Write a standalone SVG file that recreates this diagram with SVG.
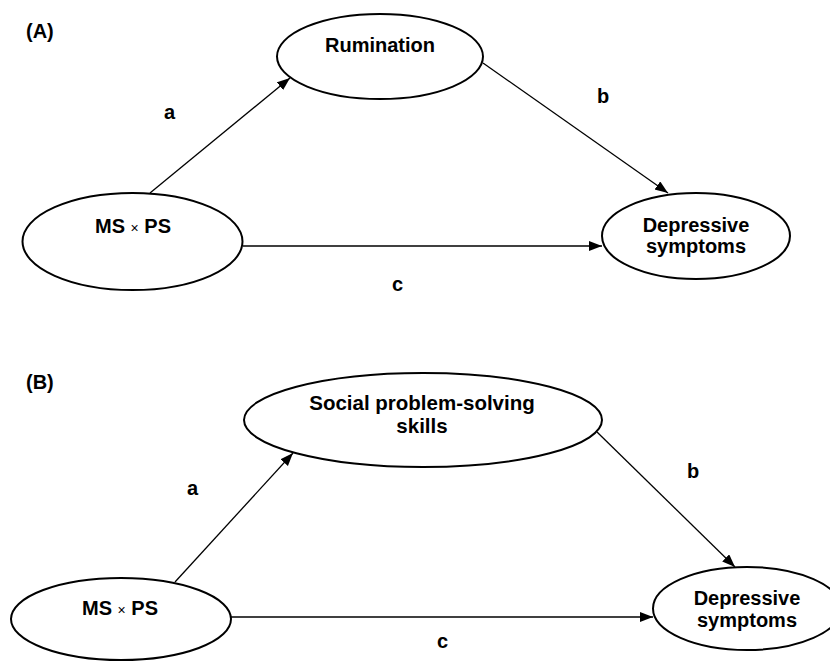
<svg xmlns="http://www.w3.org/2000/svg" width="830" height="662" viewBox="0 0 830 662">
<style>
.n{fill:#fff;stroke:#000;stroke-width:2}
.t{font-family:"Liberation Sans",Arial,sans-serif;font-weight:bold;font-size:20px;fill:#000;text-anchor:middle}
.x{font-family:"Liberation Sans",Arial,sans-serif;font-weight:normal;font-size:14px}
.l{font-family:"Liberation Sans",Arial,sans-serif;font-weight:bold;font-size:20px;fill:#000}
.e{stroke:#000;stroke-width:1.3;fill:none;marker-end:url(#ah)}
</style>
<defs>
<marker id="ah" markerWidth="14" markerHeight="12" refX="13" refY="5" orient="auto" markerUnits="userSpaceOnUse">
<path d="M0,0 L13,5 L0,10 Z" fill="#000"/>
</marker>
</defs>
<rect width="830" height="662" fill="#fff"/>
<text class="l" x="26" y="38">(A)</text>
<text class="l" x="26" y="389">(B)</text>
<g id="connectors">
<line class="e" x1="150" y1="193" x2="290" y2="78"/>
<line class="e" x1="483" y1="63" x2="668" y2="193"/>
<line class="e" x1="243" y1="246" x2="602" y2="246"/>
<line class="e" x1="175" y1="582" x2="293" y2="453"/>
<line class="e" x1="597" y1="432" x2="735" y2="567"/>
<line class="e" x1="231" y1="617" x2="653" y2="617"/>
<text class="l" x="164" y="119">a</text>
<text class="l" x="597" y="103">b</text>
<text class="l" x="392" y="291">c</text>
<text class="l" x="187" y="495">a</text>
<text class="l" x="687" y="478">b</text>
<text class="l" x="437" y="648">c</text>
</g>
<g id="msps_a">
<ellipse class="n" cx="132.5" cy="241.5" rx="110" ry="48.5"/>
<text class="t" x="133" y="233">MS <tspan class="x">×</tspan> PS</text>
</g>
<g id="rumination">
<ellipse class="n" cx="380" cy="56.5" rx="103" ry="42.5"/>
<text class="t" x="380" y="52">Rumination</text>
</g>
<g id="depressive_a">
<ellipse class="n" cx="696" cy="236" rx="94" ry="43"/>
<text class="t" x="696" y="232">Depressive</text>
<text class="t" x="696" y="253">symptoms</text>
</g>
<g id="msps_b">
<ellipse class="n" cx="121" cy="619" rx="110" ry="41"/>
<text class="t" x="120" y="615">MS <tspan class="x">×</tspan> PS</text>
</g>
<g id="social">
<ellipse class="n" cx="423" cy="420" rx="179" ry="47"/>
<text class="t" x="422" y="410" style="font-size:20.5px">Social problem-solving</text>
<text class="t" x="422" y="433" style="font-size:20.5px">skills</text>
</g>
<g id="depressive_b">
<ellipse class="n" cx="747" cy="608.5" rx="94" ry="41.5"/>
<text class="t" x="747" y="605">Depressive</text>
<text class="t" x="747" y="627">symptoms</text>
</g>
</svg>
